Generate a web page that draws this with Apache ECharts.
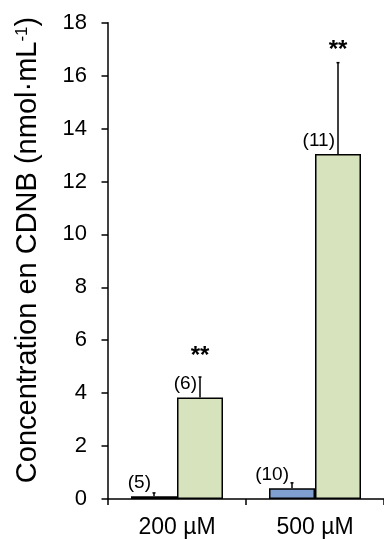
<!DOCTYPE html>
<html>
<head>
<meta charset="utf-8">
<script src="https://cdn.jsdelivr.net/npm/echarts@6/dist/echarts.min.js"></script>
<style>
  html, body { margin: 0; padding: 0; background: #fff; }
  #chart { width: 384px; height: 539px; }
</style>
</head>
<body>
<div id="chart"></div>
<script>
var categories = ['200 µM', '500 µM'];
var blueValues = [0.1, 0.41];
var blueErrors = [0.13, 0.2];
var blueCounts = ['(5)', '(10)'];
var greenValues = [3.84, 13.04];
var greenErrors = [0.77, 3.45];
var greenCounts = ['(6)', '(11)'];
var starLevels = [5.4, 16.95];
var yTicks = [0, 2, 4, 6, 8, 10, 12, 14, 16, 18];

var myChart = echarts.init(document.getElementById('chart'));
var option;

var barW = 46;
var font = 'Liberation Sans, Arial, sans-serif';

// points for error bars: [category, value, error, label, offsetSign, star]
var errData = [];
categories.forEach(function (c, i) {
    errData.push([i, blueValues[i], blueErrors[i], blueCounts[i], -1, null]);
    errData.push([i, greenValues[i], greenErrors[i], greenCounts[i], 1, starLevels[i]]);
});

option = {
    animation: false,
    grid: {
        left: 108,
        top: 22.7,
        bottom: 39.5,
        width: 280
    },
    xAxis: {
        type: 'category',
        data: categories,
        axisLine: { lineStyle: { color: '#000', width: 1.5 } },
        axisTick: { show: true, length: 6, lineStyle: { color: '#000', width: 1.5 } },
        axisLabel: { color: '#000', fontSize: 23, fontFamily: font, margin: 17 }
    },
    yAxis: {
        type: 'value',
        min: 0,
        max: 18,
        interval: 2,
        splitLine: { show: false },
        axisLine: { show: true, lineStyle: { color: '#000', width: 1.5 } },
        axisTick: { show: true, length: 6.5, lineStyle: { color: '#000', width: 1.5 } },
        axisLabel: {
            color: '#000', fontSize: 22, fontFamily: font, margin: 21,
            formatter: function (v) { return yTicks.indexOf(v) >= 0 ? String(v) : ''; }
        }
    },
    graphic: [{
        type: 'text',
        x: 28,
        y: 250,
        rotation: Math.PI / 2,
        style: {
            text: '{a|Concentration en CDNB (nmol·mL}{s|-1}{a|)}',
            align: 'center',
            verticalAlign: 'middle',
            rich: {
                a: { fontSize: 29, fontFamily: font, fill: '#000' },
                s: { fontSize: 17, fontFamily: font, fill: '#000', verticalAlign: 'top', padding: [0, 0, 11, 0] }
            }
        }
    }],
    series: [
        {
            name: 'blue',
            type: 'bar',
            data: blueValues,
            barWidth: barW,
            barGap: '0%',
            itemStyle: { color: '#7f9fd1', borderColor: '#000', borderWidth: 1.5 }
        },
        {
            name: 'green',
            type: 'bar',
            data: greenValues,
            barWidth: barW,
            barGap: '0%',
            itemStyle: { color: '#d7e3bc', borderColor: '#000', borderWidth: 1.5 }
        },
        {
            type: 'custom',
            data: errData,
            z: 10,
            renderItem: function (params, api) {
                var ci = api.value(0);
                var d = errData[params.dataIndex];
                var top = api.coord([ci, d[1]]);
                var hi = api.coord([ci, d[1] + d[2]]);
                var x = top[0] + d[4] * barW / 2;
                var kids = [
                    { type: 'line', shape: { x1: x, y1: top[1], x2: x, y2: hi[1] },
                      style: { stroke: '#000', lineWidth: 1.5 } },
                    { type: 'line', shape: { x1: x - 1.5, y1: hi[1], x2: x + 1.5, y2: hi[1] },
                      style: { stroke: '#000', lineWidth: 1.5 } },
                    { type: 'text', x: x - 3, y: top[1] - 4,
                      style: { text: d[3], align: 'right', verticalAlign: 'bottom',
                               fontSize: 19, fontFamily: font, fill: '#000' } }
                ];
                if (d[5] != null) {
                    var s = api.coord([ci, d[5]]);
                    kids.push({ type: 'text', x: x, y: s[1],
                        style: { text: '**', align: 'center', verticalAlign: 'middle',
                                 fontSize: 24, fontWeight: 'bold', fontFamily: font, fill: '#000' } });
                }
                return { type: 'group', children: kids };
            }
        }
    ]
};
option && myChart.setOption(option);
</script>
</body>
</html>
